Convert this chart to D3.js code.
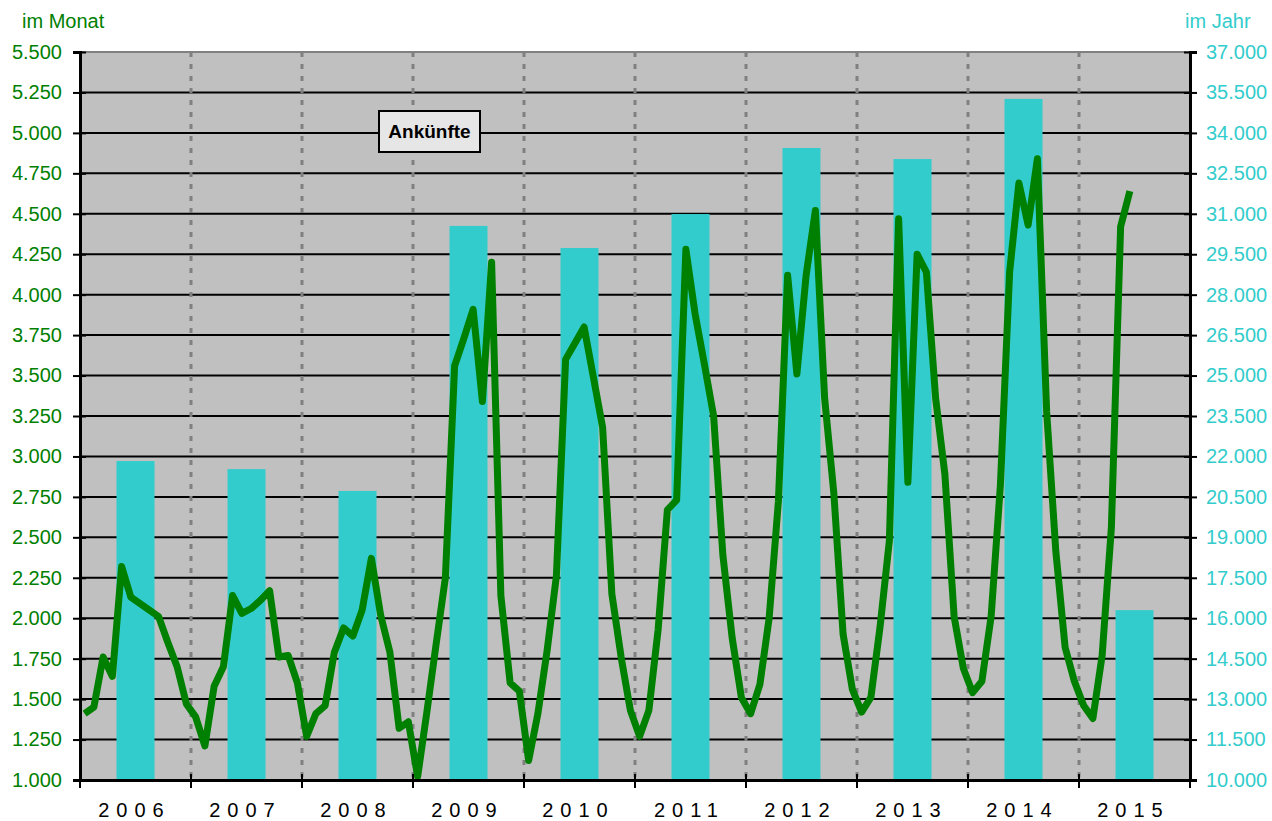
<!DOCTYPE html>
<html>
<head>
<meta charset="utf-8">
<script src="https://cdn.jsdelivr.net/npm/d3@7"></script>
<style>
  body { margin: 0; background: #fff; }
  text { font-family: Arial, "Liberation Sans", sans-serif; }
</style>
</head>
<body>
<div id="chart"></div>
<script>
// Jahre und Jahressummen (rechte Achse)
const years = ["2006", "2007", "2008", "2009", "2010", "2011", "2012", "2013", "2014", "2015"];
const yearTotals = [21830, 21530, 20720, 30550, 29730, 30990, 33440, 33030, 35260, 16300];

// Ankünfte im Monat (linke Achse), eine Zeile pro Jahr
const monthlyByYear = [
    [1410, 1450, 1760, 1640, 2320, 2130, 2090, 2050, 2010, 1850, 1700, 1470],
    [1390, 1210, 1580, 1700, 2140, 2030, 2060, 2110, 2170, 1760, 1770, 1600],
    [1270, 1410, 1460, 1790, 1940, 1890, 2050, 2370, 2020, 1790, 1320, 1360],
    [1020, 1420, 1840, 2250, 3560, 3730, 3910, 3340, 4200, 2140, 1600, 1550],
    [1120, 1410, 1800, 2260, 3600, 3700, 3800, 3490, 3180, 2150, 1760, 1430],
    [1270, 1430, 1930, 2670, 2730, 4280, 3880, 3570, 3250, 2390, 1880, 1510],
    [1410, 1590, 2000, 2720, 4120, 3510, 4120, 4520, 3360, 2770, 1900, 1560],
    [1420, 1510, 1950, 2480, 4470, 2840, 4250, 4140, 3360, 2890, 2010, 1690],
    [1540, 1610, 2010, 2820, 4140, 4690, 4430, 4840, 3280, 2410, 1820, 1610],
    [1460, 1380, 1770, 2560, 4420, 4640]
];

const leftTicks = d3.range(1000, 5501, 250);
const rightTicks = d3.range(10000, 37001, 1500);

const width = 1272, height = 821;
const plot = { left: 80, right: 1190, top: 52, bottom: 780 };

const green = "#008000";
const cyan = "#33cccc";

const de = d3.formatLocale({ decimal: ",", thousands: ".", grouping: [3], currency: ["", " €"] });
const fmt = de.format(",.0f");

const svg = d3.select("#chart")
    .append("svg")
    .attr("width", width)
    .attr("height", height);

// Scales
const xYear = d3.scaleBand()
    .domain(years)
    .range([plot.left, plot.right]);

const xMonth = d3.scaleLinear()
    .domain([0, years.length * 12])
    .range([plot.left, plot.right]);

const yLeft = d3.scaleLinear()
    .domain([1000, 5500])
    .range([plot.bottom, plot.top]);

const yRight = d3.scaleLinear()
    .domain([10000, 37000])
    .range([plot.bottom, plot.top]);

// Plot background
svg.append("rect")
    .attr("x", plot.left)
    .attr("y", plot.top)
    .attr("width", plot.right - plot.left)
    .attr("height", plot.bottom - plot.top)
    .attr("fill", "#c0c0c0");

// Horizontal grid
svg.append("g")
    .selectAll("line")
    .data(leftTicks.slice(1))
    .join("line")
    .attr("x1", plot.left)
    .attr("x2", plot.right)
    .attr("y1", d => yLeft(d))
    .attr("y2", d => yLeft(d))
    .attr("stroke", (d, i, n) => i === n.length - 1 ? "#808080" : "#000")
    .attr("stroke-width", 2);

// Year separators (dotted)
svg.append("g")
    .selectAll("line")
    .data(years.slice(1))
    .join("line")
    .attr("x1", d => xYear(d))
    .attr("x2", d => xYear(d))
    .attr("y1", plot.top)
    .attr("y2", plot.bottom)
    .attr("stroke", "#808080")
    .attr("stroke-width", 3)
    .attr("stroke-dasharray", "5,7");

// Bars: yearly totals
const barWidth = 38;
svg.append("g")
    .selectAll("rect")
    .data(years)
    .join("rect")
    .attr("x", d => xYear(d) + xYear.bandwidth() / 2 - barWidth / 2)
    .attr("y", (d, i) => yRight(yearTotals[i]))
    .attr("width", barWidth)
    .attr("height", (d, i) => plot.bottom - yRight(yearTotals[i]))
    .attr("fill", cyan);

// Monthly line
const monthly = monthlyByYear.flat();
const line = d3.line()
    .x((d, i) => xMonth(i + 0.5))
    .y(d => yLeft(d));

svg.append("path")
    .datum(monthly)
    .attr("d", line)
    .attr("fill", "none")
    .attr("stroke", green)
    .attr("stroke-width", 7)
    .attr("stroke-linejoin", "round");

// Left axis
const axisL = svg.append("g")
    .attr("transform", `translate(${plot.left},0)`)
    .call(d3.axisLeft(yLeft).tickValues(leftTicks).tickFormat(fmt).tickSize(7).tickPadding(11));
axisL.select(".domain").attr("stroke", "#000").attr("stroke-width", 3);
axisL.selectAll(".tick line").attr("x2", -7).attr("x1", 6).attr("stroke", "#000").attr("stroke-width", 2);
axisL.selectAll(".tick text").attr("fill", green).attr("font-size", 20);

// Right axis
const axisR = svg.append("g")
    .attr("transform", `translate(${plot.right},0)`)
    .call(d3.axisRight(yRight).tickValues(rightTicks).tickFormat(fmt).tickSize(7).tickPadding(9));
axisR.select(".domain").attr("stroke", "#000").attr("stroke-width", 3);
axisR.selectAll(".tick line").attr("x1", -6).attr("stroke", "#000").attr("stroke-width", 2);
axisR.selectAll(".tick text").attr("fill", cyan).attr("font-size", 20);

// Bottom axis
const axisB = svg.append("g")
    .attr("transform", `translate(0,${plot.bottom})`)
    .call(d3.axisBottom(xYear).tickValues([]).tickSizeOuter(0));
axisB.select(".domain").attr("stroke", "#000").attr("stroke-width", 3);

svg.append("g")
    .selectAll("line")
    .data(years.concat(["end"]))
    .join("line")
    .attr("x1", (d, i) => xMonth(i * 12))
    .attr("x2", (d, i) => xMonth(i * 12))
    .attr("y1", plot.bottom - 6)
    .attr("y2", plot.bottom + 8)
    .attr("stroke", "#000")
    .attr("stroke-width", 2);

svg.append("g")
    .selectAll("text")
    .data(years)
    .join("text")
    .attr("x", d => xYear(d) + xYear.bandwidth() / 2 - 1)
    .attr("y", 817)
    .attr("text-anchor", "middle")
    .attr("font-size", 20)
    .attr("letter-spacing", "7px")
    .attr("fill", "#000")
    .text(d => d);

// Axis titles
svg.append("text")
    .attr("x", 22).attr("y", 28)
    .attr("font-size", 20)
    .attr("fill", green)
    .text("im Monat");

svg.append("text")
    .attr("x", 1185).attr("y", 28)
    .attr("font-size", 20)
    .attr("fill", cyan)
    .text("im Jahr");

// Label box
const box = svg.append("g").attr("transform", "translate(379,111)");
box.append("rect")
    .attr("width", 101)
    .attr("height", 41)
    .attr("fill", "#e6e6e6")
    .attr("stroke", "#000")
    .attr("stroke-width", 2);
box.append("text")
    .attr("x", 50.5)
    .attr("y", 27)
    .attr("text-anchor", "middle")
    .attr("font-size", 19)
    .attr("font-weight", "bold")
    .attr("fill", "#000")
    .text("Ankünfte");
</script>
</body>
</html>
